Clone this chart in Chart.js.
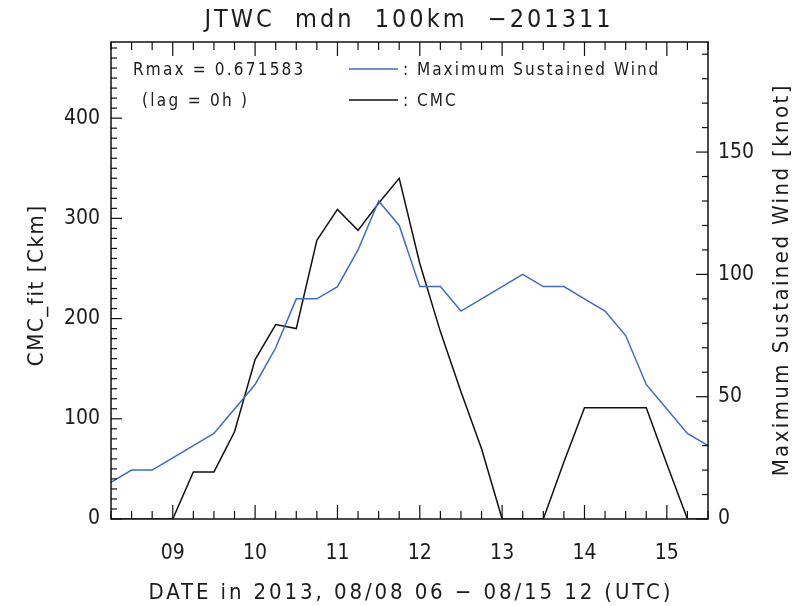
<!DOCTYPE html>
<html>
<head>
<meta charset="utf-8">
<script src="https://cdn.jsdelivr.net/npm/chart.js@4.4.1/dist/chart.umd.min.js"></script>
<style>
  html, body { margin: 0; padding: 0; background: #fff; }
  #wrap { width: 795px; height: 606px; }
</style>
</head>
<body>
<div id="wrap"><canvas id="chart" width="795" height="606"></canvas></div>
<script>
// 6-hourly times, 2013-08-08 06 UTC .. 2013-08-15 12 UTC
const times = [
  '08/08 06', '08/08 12', '08/08 18',
  '08/09 00', '08/09 06', '08/09 12', '08/09 18',
  '08/10 00', '08/10 06', '08/10 12', '08/10 18',
  '08/11 00', '08/11 06', '08/11 12', '08/11 18',
  '08/12 00', '08/12 06', '08/12 12', '08/12 18',
  '08/13 00', '08/13 06', '08/13 12', '08/13 18',
  '08/14 00', '08/14 06', '08/14 12', '08/14 18',
  '08/15 00', '08/15 06', '08/15 12',
];

// Maximum sustained wind [knot] (right axis)
const windKnot = [
  15, 20, 20, 25, 30, 35, 45, 55, 70, 90,
  90, 95, 110, 130, 120, 95, 95, 85, 90, 95,
  100, 95, 95, 90, 85, 75, 55, 45, 35, 30,
];

// CMC_fit [Ckm] (left axis)
const cmcFit = [
  0, 0, 0, 0, 47, 47, 87, 159, 194, 190,
  278, 309, 288, 315, 340, 255, 187, 127, 70, 0,
  0, 0, 57, 111, 111, 111, 111, 55, 0, 0,
];

const title = 'JTWC  mdn  100km  \u2212201311';
const xTitle = 'DATE in 2013, 08/08 06 \u2212 08/15 12 (UTC)';
const yLeftTitle = 'CMC_fit [Ckm]';
const yRightTitle = 'Maximum Sustained Wind [knot]';
const rmaxText = 'Rmax = 0.671583';
const lagText = '(lag = 0h )';

const FONT = '"DejaVu Sans Condensed", "DejaVu Sans", sans-serif';
const TEXT = '#1c1c1c';
const BLUE = '#3c6cc8';

function line(ctx, x1, y1, x2, y2) {
  ctx.beginPath();
  ctx.moveTo(x1, y1);
  ctx.lineTo(x2, y2);
  ctx.stroke();
}

// text drawn with a bit of extra tracking (the IDL font is wide)
function spaced(ctx, text, x, y, spacing) {
  ctx.letterSpacing = spacing + 'px';
  // trailing spacing would shift centred text, so compensate
  if (ctx.textAlign === 'center') x += spacing / 2;
  ctx.fillText(text, x, y);
  ctx.letterSpacing = '0px';
}

// Frame with inward major/minor ticks, like the IDL plot
const framePlugin = {
  id: 'frame',
  afterDatasetsDraw(chart) {
    const { ctx, chartArea: a, scales } = chart;
    const x = scales.x, yL = scales.yL, yR = scales.yR;
    ctx.save();
    ctx.strokeStyle = '#111';
    ctx.lineWidth = 1.5;
    ctx.strokeRect(a.left, a.top, a.right - a.left, a.bottom - a.top);
    ctx.lineWidth = 1.2;
    times.forEach((t, i) => {
      const px = x.getPixelForValue(i);
      const len = t.endsWith('00') ? 14 : 8;
      line(ctx, px, a.bottom, px, a.bottom - len);
      line(ctx, px, a.top, px, a.top + len);
    });
    for (let v = 0; v <= yL.max; v += 10) {
      const py = yL.getPixelForValue(v);
      line(ctx, a.left, py, a.left + (v % 100 === 0 ? 11 : 6), py);
    }
    for (let v = 0; v <= yR.max; v += 10) {
      const py = yR.getPixelForValue(v);
      line(ctx, a.right, py, a.right - (v % 50 === 0 ? 12 : 6), py);
    }
    ctx.restore();
  },
};

// Titles and the in-plot legend
const textPlugin = {
  id: 'texts',
  afterDraw(chart) {
    const { ctx, chartArea: a } = chart;
    const cx = (a.left + a.right) / 2;
    ctx.save();
    ctx.fillStyle = TEXT;
    ctx.textBaseline = 'alphabetic';

    ctx.textAlign = 'center';
    ctx.font = '25px ' + FONT;
    spaced(ctx, title, cx - 2, 27, 3);
    ctx.font = '22px ' + FONT;
    spaced(ctx, xTitle, cx, 599, 2.9);

    ctx.save();
    ctx.translate(43, 286);
    ctx.rotate(-Math.PI / 2);
    spaced(ctx, yLeftTitle, 0, 0, 1.6);
    ctx.restore();

    ctx.save();
    ctx.translate(788, 281);
    ctx.rotate(-Math.PI / 2);
    spaced(ctx, yRightTitle, 0, 0, 2.4);
    ctx.restore();

    // legend block
    ctx.textAlign = 'left';
    ctx.font = '17px ' + FONT;
    spaced(ctx, rmaxText, 133, 75, 2.2);
    spaced(ctx, lagText, 142, 106, 2.3);
    spaced(ctx, ': ' + chart.data.datasets[0].label, 403, 75, 2);
    spaced(ctx, ': ' + chart.data.datasets[1].label, 403, 106, 2);
    ctx.lineWidth = 1.5;
    ctx.strokeStyle = BLUE;
    line(ctx, 349, 69, 398, 69);
    ctx.strokeStyle = '#111';
    line(ctx, 349, 100, 398, 100);
    ctx.restore();
  },
};

const tickFont = { family: FONT, size: 21 };

new Chart(document.getElementById('chart'), {
  type: 'line',
  data: {
    labels: times,
    datasets: [
      {
        label: 'Maximum Sustained Wind',
        data: windKnot,
        yAxisID: 'yR',
        borderColor: BLUE,
        borderWidth: 1.5,
        pointRadius: 0,
        tension: 0,
      },
      {
        label: 'CMC',
        data: cmcFit,
        yAxisID: 'yL',
        borderColor: '#111',
        borderWidth: 1.5,
        pointRadius: 0,
        tension: 0,
        clip: 0,
      },
    ],
  },
  options: {
    responsive: false,
    animation: false,
    devicePixelRatio: 1,
    layout: { padding: { top: 42, left: 0, right: 0, bottom: 0 } },
    plugins: {
      legend: { display: false },
      title: { display: false },
      tooltip: { enabled: false },
    },
    scales: {
      x: {
        type: 'category',
        offset: false,
        grid: { display: false, drawTicks: false },
        border: { display: false },
        afterFit: s => { s.height = 87; },
        ticks: {
          autoSkip: false,
          maxRotation: 0,
          padding: 22,
          color: TEXT,
          font: tickFont,
          callback: (v, i) => (times[i].endsWith('00') ? times[i].slice(3, 5) : ''),
        },
      },
      yL: {
        position: 'left',
        min: 0,
        max: 476,
        grid: { display: false, drawTicks: false },
        border: { display: false },
        afterFit: s => { s.width = 111; },
        ticks: { stepSize: 100, includeBounds: false, padding: 11, color: TEXT, font: tickFont },
      },
      yR: {
        position: 'right',
        min: 0,
        max: 195,
        grid: { display: false, drawTicks: false },
        border: { display: false },
        afterFit: s => { s.width = 87; },
        ticks: { stepSize: 50, includeBounds: false, padding: 10, color: TEXT, font: tickFont },
      },
    },
  },
  plugins: [framePlugin, textPlugin],
});
</script>
</body>
</html>
